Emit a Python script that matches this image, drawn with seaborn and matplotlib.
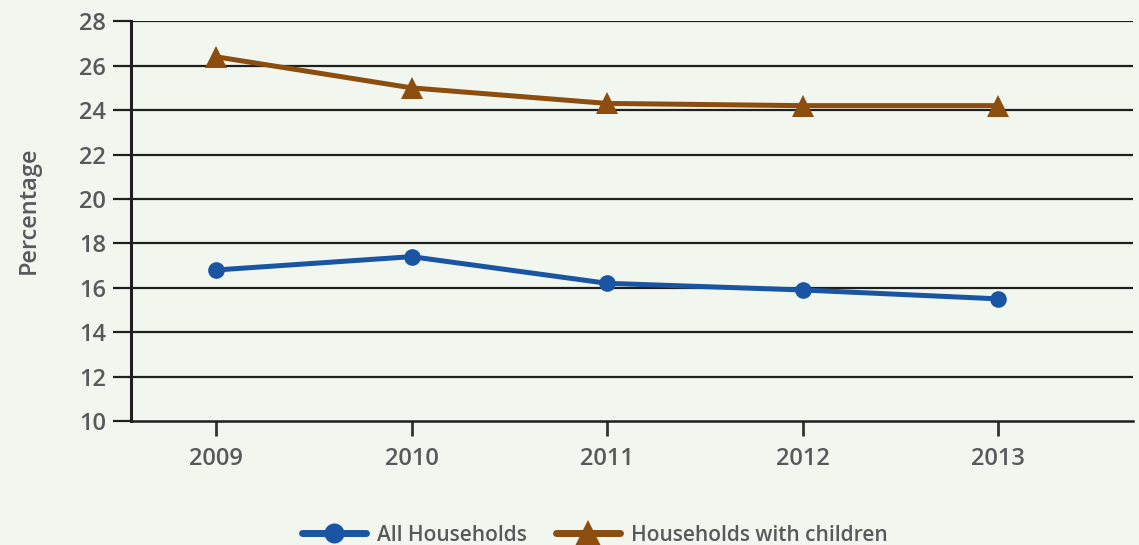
import pandas as pd
import matplotlib.pyplot as plt
import seaborn as sns

# Data
years = [2009, 2010, 2011, 2012, 2013]
all_households = [16.8, 17.4, 16.2, 15.9, 15.5]
with_children = [26.4, 25.0, 24.3, 24.2, 24.2]
y_ticks = [10, 12, 14, 16, 18, 20, 22, 24, 26, 28]

bg = '#f1f6ee'
text_color = '#58595b'
blue = '#1a55a3'
brown = '#8c4d0f'

sns.set_style('white')
plt.rcParams['font.family'] = ['Open Sans', 'DejaVu Sans']

fig = plt.figure(figsize=(11.39, 5.45), dpi=100, facecolor=bg)
ax = fig.add_axes([0.115, 0.2275, 0.88, 0.7335], facecolor=bg)

# Line plots
sns.lineplot(x=years, y=all_households, ax=ax, color=blue, linewidth=3.6,
             marker='o', markersize=12, markeredgewidth=0, label='All Households')
sns.lineplot(x=years, y=with_children, ax=ax, color=brown, linewidth=3.6,
             marker='^', markersize=16, markeredgewidth=0,
             label='Households with children')

ax.set_xlim(2008.565, 2013.69)
ax.set_ylim(10, 28)
ax.set_yticks(y_ticks)
ax.set_xticks(years)
ax.set_xticklabels([str(y) for y in years])

# Gridlines
for t in y_ticks[1:]:
    ax.axhline(t, color='#1f1f1f', linewidth=1.6, zorder=0.5)

for side in ['top', 'right']:
    ax.spines[side].set_visible(False)
ax.spines['left'].set_color('#1f1f1f')
ax.spines['left'].set_linewidth(2.2)
ax.spines['bottom'].set_color('#1f1f1f')
ax.spines['bottom'].set_linewidth(1.8)

ax.tick_params(axis='y', length=13, width=1.6, color='#1f1f1f', pad=5,
               labelsize=17, labelcolor=text_color, left=True)
ax.tick_params(axis='x', length=11, width=2, color='#333333', pad=8,
               labelsize=17, labelcolor=text_color, bottom=True)
for lbl in ax.get_xticklabels() + ax.get_yticklabels():
    lbl.set_fontweight('semibold')

ax.set_xlabel('')
ax.set_ylabel('Percentage', fontsize=17, color=text_color, fontweight='semibold')
ax.yaxis.set_label_coords(-0.09, 0.527)

leg = fig.legend(loc='center', bbox_to_anchor=(0.522, 0.018), ncol=2,
                 frameon=False, fontsize=15, handlelength=3.1, columnspacing=1.4,
                 handletextpad=0.5, borderaxespad=0, markerscale=1.2)
for line in leg.get_lines():
    line.set_linewidth(5)
for t in leg.get_texts():
    t.set_color(text_color)
    t.set_fontweight('semibold')
ax.get_legend().remove()

fig.savefig('out.png', dpi=100, facecolor=bg)
